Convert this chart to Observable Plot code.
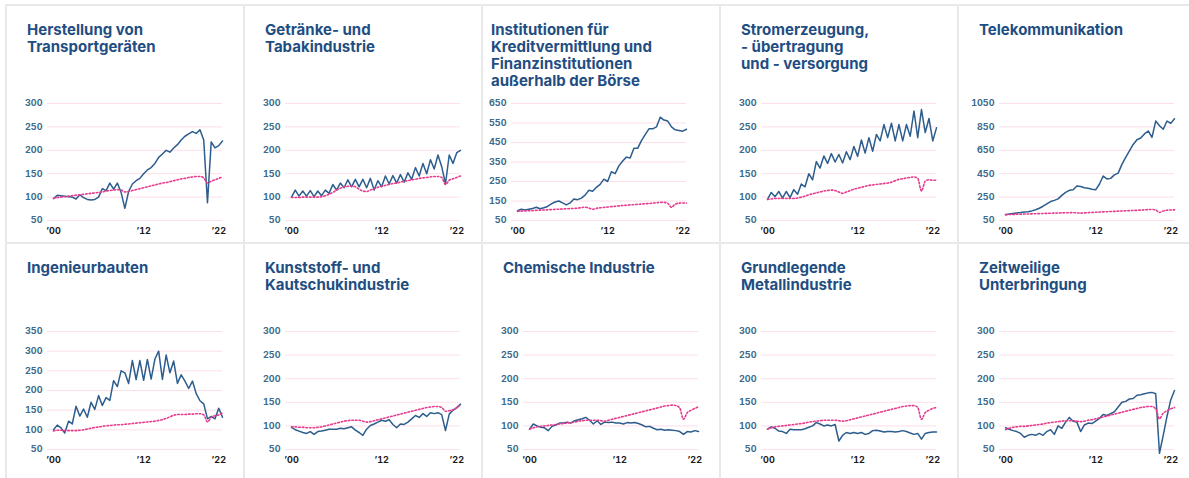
<!DOCTYPE html>
<html><head><meta charset="utf-8">
<script src="https://cdn.jsdelivr.net/npm/d3@7"></script>
<script src="https://cdn.jsdelivr.net/npm/@observablehq/plot@0.6"></script>
<style>
body{margin:0;background:#fff;width:1189px;height:478px;overflow:hidden;position:relative;font-family:Inter,"Open Sans",sans-serif}
.cell{position:absolute;width:238px;height:238px;box-shadow:inset 2px 2px 0 #e9e9e9}
.title{position:absolute;top:17px;font-size:15px;line-height:17px;font-weight:700;color:#1f4e82;white-space:nowrap}
.plot{position:absolute}
</style></head><body>
<script>
// Half-year sampling times 2000.0 … 2022.5
const times = d3.range(2000, 2023, 0.5);
const xTickYears = [2000, 2012, 2022];
const xTickLabels = ["’00", "’12", "’22"];

const titles = [
  ["Herstellung von", "Transportgeräten"],
  ["Getränke- und", "Tabakindustrie"],
  ["Institutionen für", "Kreditvermittlung und", "Finanzinstitutionen", "außerhalb der Börse"],
  ["Stromerzeugung,", "- übertragung", "und - versorgung"],
  ["Telekommunikation"],
  ["Ingenieurbauten"],
  ["Kunststoff- und", "Kautschukindustrie"],
  ["Chemische Industrie"],
  ["Grundlegende", "Metallindustrie"],
  ["Zeitweilige", "Unterbringung"]
];

const yTicksStd = [50, 100, 150, 200, 250, 300];
const yTicksKredit = [50, 150, 250, 350, 450, 550, 650];
const yTicksTelekom = [50, 250, 450, 650, 850, 1050];
const yTicksIngenieur = [50, 100, 150, 200, 250, 300, 350];

const transportBlue = [97,104,103,102,101,100,96,105,99,95, 94,95,100,118,114,130,117,130,110,76, 112,128,135,140,150,158,163,172,185,192, 200,196,205,212,222,230,235,240,236,244, 222,88,218,205,210,220];
const transportPink = [97,99,100,101,102,103,104,105,106,107, 108,109,110,111,113,114,115,116,115,111, 112,114,116,118,120,122,124,126,128,130, 131,133,135,137,139,140,142,143,144,144, 141,130,134,137,140,143];

const getraenkeBlue = [100,115,102,113,102,114,101,113,103,115, 108,127,115,130,120,137,122,138,122,138, 120,140,115,135,122,145,128,146,130,148, 132,152,138,163,145,172,150,180,160,190, 165,128,190,172,195,200];
const getraenkePink = [99,99,99,100,100,100,100,100,101,103, 106,110,115,119,122,123,124,122,117,113, 112,115,118,121,123,125,127,129,130,132, 134,135,137,138,140,141,142,143,144,144, 142,127,136,139,142,145];

const kreditBlue = [100,108,104,108,112,118,110,115,122,135, 145,150,140,130,140,160,157,165,180,205, 200,220,235,262,250,300,290,330,355,375, 370,420,420,460,490,520,520,530,580,565, 560,530,515,512,508,518];
const kreditPink = [97,98,99,100,101,102,103,104,105,106, 107,108,109,110,111,112,113,116,118,114, 108,112,115,117,119,121,123,125,127,128, 130,131,133,134,136,137,139,141,143,143, 138,118,134,139,140,140];

const stromBlue = [95,110,101,112,98,112,99,116,106,128, 122,150,137,176,162,188,172,193,175,191, 173,197,180,208,187,222,194,227,198,234, 220,255,227,258,220,255,220,255,230,284, 227,287,238,268,220,248];
const stromPink = [95,96,97,97,97,97,97,97,98,100, 102,105,107,109,111,113,114,115,114,111, 108,111,114,117,119,121,123,125,126,127, 128,129,130,132,135,138,139,141,142,143, 140,113,134,137,136,136];

const telekomBlue = [100,105,110,115,118,122,125,132,142,155, 172,192,212,222,235,265,290,308,312,345, 340,330,325,318,312,360,430,405,410,440, 455,530,590,645,700,740,755,790,815,760, 900,860,830,900,880,920];
const telekomPink = [100,101,102,103,104,105,106,107,108,109, 110,111,112,113,114,115,116,117,117,115, 113,115,117,119,120,122,124,125,127,128, 130,131,133,134,136,137,139,141,143,144, 140,118,132,138,140,141];

const ingenieurBlue = [100,112,105,92,122,115,160,135,153,132, 170,152,187,162,182,175,225,210,250,245, 218,276,228,276,226,279,229,280,300,228, 290,245,275,218,240,224,205,224,192,174, 166,128,134,128,155,132];
const ingenieurPink = [97,99,99,98,98,98,98,99,100,102, 104,106,107,109,110,111,112,113,113,114, 115,116,117,118,119,120,121,122,124,126, 129,133,137,139,139,139,140,140,141,141, 138,120,132,136,138,143];

const kunststoffBlue = [97,92,89,86,84,88,82,88,89,91, 93,93,93,95,94,96,98,91,86,80, 93,101,104,108,112,110,113,103,96,104, 103,108,115,122,118,126,120,128,126,128, 124,90,125,133,139,146];
const kunststoffPink = [98,98,97,97,96,96,96,97,98,100, 102,104,106,108,110,111,112,112,112,110, 108,109,111,113,115,117,119,121,123,125, 127,129,131,133,135,137,139,140,141,141, 139,131,132,134,138,145];

const chemieBlue = [93,104,100,97,96,90,99,102,106,106, 108,106,111,113,115,118,112,104,111,103, 108,107,108,106,106,104,107,106,107,105, 102,98,99,95,92,93,91,92,91,90, 88,82,88,87,90,88];
const chemiePink = [93,96,98,99,100,101,102,103,104,105, 106,107,108,110,111,112,112,112,112,111, 110,112,114,116,118,120,122,124,126,128, 130,132,134,136,138,140,142,143,144,143, 138,114,128,133,137,140];

const metallBlue = [93,98,95,89,88,84,93,92,92,92, 94,97,100,107,104,100,102,100,103,68, 80,86,84,86,84,86,82,84,90,91, 89,87,88,88,87,88,90,88,85,82, 84,72,84,86,87,87];
const metallPink = [93,96,98,99,100,101,102,103,104,105, 106,108,109,110,111,112,112,112,112,111, 110,111,113,115,117,119,121,123,125,127, 129,131,133,135,137,139,141,142,143,143, 139,114,128,133,137,139];

const unterbringungBlue = [96,93,90,88,84,76,80,82,80,84, 80,88,92,82,100,95,108,118,110,108, 88,102,106,105,110,116,124,122,126,130, 140,150,152,157,158,165,166,168,170,171, 168,42,80,120,155,175];
const unterbringungPink = [92,95,97,98,99,99,100,101,102,103, 104,106,107,108,109,110,111,111,111,110, 109,110,112,113,115,117,119,121,123,125, 127,129,131,133,135,137,139,140,141,141, 136,115,127,132,136,139];

const panels = [
  {blue: transportBlue, pink: transportPink, ticks: yTicksStd},
  {blue: getraenkeBlue, pink: getraenkePink, ticks: yTicksStd},
  {blue: kreditBlue, pink: kreditPink, ticks: yTicksKredit, dx: -12},
  {blue: stromBlue, pink: stromPink, ticks: yTicksStd},
  {blue: telekomBlue, pink: telekomPink, ticks: yTicksTelekom},
  {blue: ingenieurBlue, pink: ingenieurPink, ticks: yTicksIngenieur},
  {blue: kunststoffBlue, pink: kunststoffPink, ticks: yTicksStd},
  {blue: chemieBlue, pink: chemiePink, ticks: yTicksStd},
  {blue: metallBlue, pink: metallPink, ticks: yTicksStd},
  {blue: unterbringungBlue, pink: unterbringungPink, ticks: yTicksStd}
];

const BLUE = "#2c5d8d", PINK = "#e53c8d", GRID = "#fcdfe9", YLAB = "#3a6c8d", XLAB = "#1b1b1b";
const font = "Inter, 'Open Sans', sans-serif";

panels.forEach((p, i) => {
  const col = i % 5, row = Math.floor(i / 5);
  const cell = document.createElement("div");
  cell.className = "cell";
  cell.style.left = (5 + 238 * col) + "px";
  cell.style.top = (4 + 238 * row) + "px";
  document.body.appendChild(cell);
  const dx = p.dx || 0;

  const t = document.createElement("div");
  t.className = "title";
  t.style.left = (22 + dx) + "px";
  t.innerHTML = titles[i].join("<br>");
  cell.appendChild(t);

  const blueData = times.map((x, k) => ({x, v: p.blue[k]}));
  const pinkData = times.map((x, k) => ({x, v: p.pink[k]}));
  const yMin = p.ticks[0], yMax = p.ticks[p.ticks.length - 1];
  const innerH = row === 0 ? 117 : 118;

  const chart = Plot.plot({
    width: 238,
    height: 8 + innerH + 22,
    marginTop: 8,
    marginBottom: 22,
    marginLeft: 42,
    marginRight: 21,
    style: {fontFamily: font, background: "transparent", overflow: "visible"},
    x: {domain: [1999.2, 2022.5]},
    y: {domain: [yMin, yMax]},
    marks: [
      Plot.gridY(p.ticks, {stroke: GRID, strokeOpacity: 1, strokeWidth: 1}),
      Plot.axisY(p.ticks, {tickSize: 0, tickPadding: 5, fontSize: 9, fontWeight: 700, fill: YLAB, label: null,
        tickFormat: d => String(d)}),
      Plot.axisX(xTickYears, {tickSize: 0, tickPadding: 7, fontSize: 9, fontWeight: 700, fill: XLAB, label: null,
        tickFormat: d => xTickLabels[xTickYears.indexOf(d)]}),
      Plot.line(blueData, {x: "x", y: "v", stroke: BLUE, strokeWidth: 1.5}),
      Plot.line(pinkData, {x: "x", y: "v", stroke: PINK, strokeWidth: 1.6, strokeDasharray: "1.6,2", curve: "monotone-x"})
    ]
  });
  chart.classList.add("plot");
  chart.style.left = dx + "px";
  chart.style.top = (row === 0 ? 91 : 81) + "px";
  cell.appendChild(chart);
});
</script>
</body></html>
